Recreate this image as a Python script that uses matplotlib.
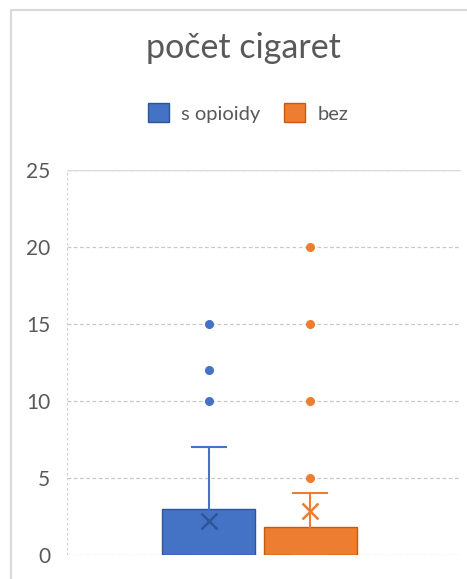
import matplotlib
matplotlib.use("Agg")
import matplotlib.pyplot as plt
from matplotlib.patches import Patch
from matplotlib.lines import Line2D

title = "počet cigaret"
series = ["s opioidy", "bez"]
colors = ["#4472C4", "#ED7D31"]
edge_colors = ["#2F5597", "#C55A11"]
q1 = [0, 0]
median = [0, 0]
q3 = [3, 1.85]
whisker_low = [0, 0]
whisker_high = [7, 4]
means = [2.2, 2.85]
outliers = [[10, 12, 15], [5, 10, 15, 20]]
yticks = [0, 5, 10, 15, 20, 25]

plt.rcParams['font.family'] = ['Lato', 'DejaVu Sans']
fig = plt.figure(figsize=(4.67, 5.79), dpi=100)
W, H = 467, 579
ax = fig.add_axes([67 / W, 1 - 555 / H, (461 - 67) / W, (555 - 170) / H])

positions = [0.36, 0.617]
width = 0.236
stats = []
for i in range(2):
    stats.append(dict(med=median[i], q1=q1[i], q3=q3[i], whislo=whisker_low[i],
                      whishi=whisker_high[i], mean=means[i], fliers=outliers[i], label=series[i]))

for i in range(2):
    ax.bxp([stats[i]], positions=[positions[i]], widths=width, patch_artist=True,
           showmeans=True, showcaps=True,
           boxprops=dict(facecolor=colors[i], edgecolor=edge_colors[i], linewidth=1.0),
           medianprops=dict(color=edge_colors[i], linewidth=1.0),
           whiskerprops=dict(color=colors[i], linewidth=1.5),
           capprops=dict(color=colors[i], linewidth=1.5),
           capwidths=width * 0.36,
           meanprops=dict(marker='x', markeredgecolor=edge_colors[i] if i == 0 else colors[i],
                          markersize=11, markeredgewidth=1.8),
           flierprops=dict(marker='o', markerfacecolor=colors[i], markeredgecolor=colors[i],
                           markersize=5.5))

ax.set_xlim(0, 1)
ax.set_ylim(0, 25)
ax.set_yticks(yticks)
ax.set_yticklabels([str(t) for t in yticks])
ax.set_xticks([])
for s in ax.spines.values():
    s.set_visible(False)
ax.axvline(0, color="#D0D0D0", linewidth=0.9, linestyle=(0, (2, 2)))
ax.yaxis.grid(True, color="#C8C8C8", linewidth=0.9, linestyle=(0, (3, 2)))
ax.axhline(25, color="#D9D9D9", linewidth=1.0)
ax.set_axisbelow(True)
ax.tick_params(axis='y', length=0, pad=12, labelsize=15, labelcolor="#595959")

# chart border (top and left edges visible)
fig.add_artist(Line2D([11 / W, 11 / W], [0, 1 - 10 / H], color="#D9D9D9", linewidth=1.5,
                      transform=fig.transFigure))
fig.add_artist(Line2D([11 / W, 1], [1 - 10 / H, 1 - 10 / H], color="#D9D9D9", linewidth=1.5,
                      transform=fig.transFigure))

fig.text(243 / W, 1 - 48 / H, title, ha='center', va='center', fontsize=24.5, color="#595959")

handles = [Patch(facecolor=colors[i], edgecolor=edge_colors[i], label=series[i]) for i in range(2)]
fig.legend(handles=handles, loc='center', bbox_to_anchor=(248 / W, 1 - 113 / H), ncol=2,
           frameon=False, fontsize=14.5, labelcolor="#595959", handlelength=1.05, handleheight=1.05,
           handletextpad=0.6, columnspacing=1.2)

fig.savefig("out.png", dpi=100)
